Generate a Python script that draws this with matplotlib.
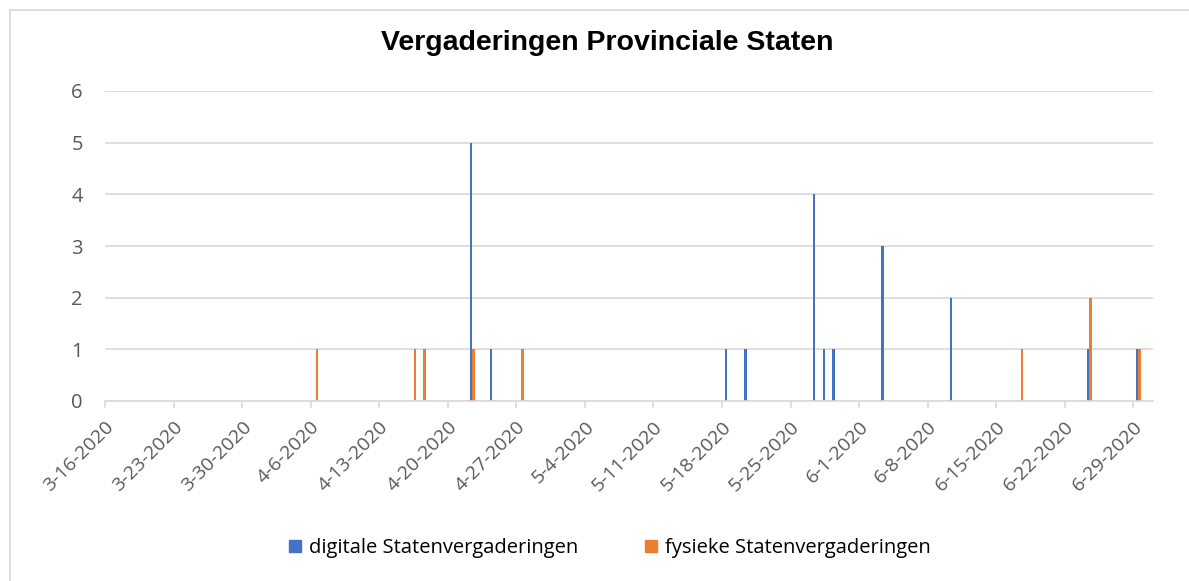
import numpy as np
import matplotlib.pyplot as plt
from matplotlib.lines import Line2D

# meeting dates and counts
digital_dates = ['2020-04-22', '2020-04-24', '2020-05-18', '2020-05-20', '2020-05-27',
                 '2020-05-28', '2020-05-29', '2020-06-03', '2020-06-10', '2020-06-24',
                 '2020-06-29']
digital_counts = [5, 1, 1, 1, 4, 1, 1, 3, 2, 1, 1]

physical_dates = ['2020-04-06', '2020-04-16', '2020-04-17', '2020-04-22', '2020-04-27',
                  '2020-06-17', '2020-06-24', '2020-06-29']
physical_counts = [1, 1, 1, 1, 1, 1, 2, 1]

start = np.datetime64('2020-03-16')
end = np.datetime64('2020-07-01')
tick_dates = np.arange(start, np.datetime64('2020-06-30'), np.timedelta64(7, 'D'))

blue = '#4472c4'
orange = '#ed7d31'
grid = '#d9d9d9'
text = '#595959'


def days(dates):
    return (np.array(dates, dtype='datetime64[D]') - start).astype(int)


def label(d):
    y, m, dd = str(d).split('-')
    return '%d-%d-%s' % (int(m), int(dd), y)


fig = plt.figure(figsize=(11.89, 5.81), dpi=100)
ax = fig.add_axes([105 / 1189, 1 - 401 / 581, 1048 / 1189, 310 / 581])

w = 0.239
ax.bar(days(digital_dates) + 0.5 - w / 2, digital_counts, width=w, color=blue,
       label='digitale Statenvergaderingen')
ax.bar(days(physical_dates) + 0.5 + w / 2, physical_counts, width=w, color=orange,
       label='fysieke Statenvergaderingen')

ax.set_xlim(0, int((end - start).astype(int)))
ax.set_ylim(0, 6)
ax.set_yticks(range(7))
ax.yaxis.grid(True, color=grid, linewidth=1.2)
ax.set_axisbelow(True)
ax.tick_params(axis='y', length=0, pad=16, labelsize=14.5, labelcolor=text)

ax.set_xticks(days(tick_dates))
ax.set_xticklabels([label(d) for d in tick_dates], rotation=45, ha='right',
                   rotation_mode='anchor')
ax.tick_params(axis='x', length=5, width=1.2, color=grid, labelsize=14,
               labelcolor=text, pad=7)
for s in ['top', 'right', 'left']:
    ax.spines[s].set_visible(False)
ax.spines['bottom'].set_color(grid)
ax.spines['bottom'].set_linewidth(1.2)

for lab in ax.get_xticklabels() + ax.get_yticklabels():
    lab.set_fontfamily('Open Sans')

fig.text(607 / 1189, 1 - 43 / 581, 'Vergaderingen Provinciale Staten', ha='center',
         va='center', fontsize=20.5, fontweight='bold', family='Liberation Sans',
         color='black')

handles = [Line2D([], [], marker='s', linestyle='none', markersize=9, color=blue),
           Line2D([], [], marker='s', linestyle='none', markersize=9, color=orange)]
fig.legend(handles, ['digitale Statenvergaderingen', 'fysieke Statenvergaderingen'],
           loc='center', bbox_to_anchor=(609 / 1189, 1 - 548 / 581), ncol=2,
           frameon=False, handlelength=0.8, handletextpad=0.3, columnspacing=3.2,
           prop={'family': 'Open Sans', 'size': 14.5}, labelcolor='black')

# chart area border (left and top only visible)
fig.add_artist(Line2D([10 / 1189, 10 / 1189], [0, 1 - 10 / 581], color=grid, lw=1.2,
                      transform=fig.transFigure))
fig.add_artist(Line2D([10 / 1189, 1], [1 - 10 / 581, 1 - 10 / 581], color=grid, lw=1.2,
                      transform=fig.transFigure))

fig.savefig('out.png', dpi=100)
